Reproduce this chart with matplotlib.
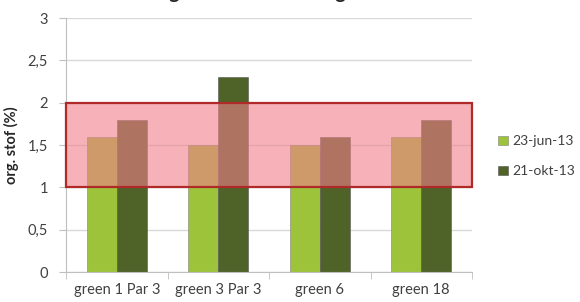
import matplotlib
matplotlib.use("Agg")
import matplotlib.pyplot as plt
import numpy as np
from matplotlib.patches import Rectangle

categories = ["green 1 Par 3", "green 3 Par 3", "green 6", "green 18"]
series_names = ["23-jun-13", "21-okt-13"]
jun_values = [1.6, 1.5, 1.5, 1.6]
okt_values = [1.8, 2.3, 1.6, 1.8]
band_low, band_high = 1.0, 2.0
yticks = [0, 0.5, 1, 1.5, 2, 2.5, 3]
ytick_labels = ["0", "0,5", "1", "1,5", "2", "2,5", "3"]
title = "Organische stof in de greens"

plt.rcParams['font.family'] = ['Lato', 'DejaVu Sans']

fig = plt.figure(figsize=(5.8, 3.02), dpi=100)
ax = fig.add_axes([66/580, 1-272/302, (472-66)/580, (272-18)/302])

x = np.arange(len(categories))
w = 0.295
c_light = "#9DC33B"
c_dark = "#4F6228"
ax.bar(x - w/2, jun_values, w, color=c_light, edgecolor="#7f7f7f", linewidth=0.4, label=series_names[0], zorder=2)
ax.bar(x + w/2, okt_values, w, color=c_dark, edgecolor="#555555", linewidth=0.4, label=series_names[1], zorder=2)

ax.set_xlim(-0.5, len(categories) - 0.5)
ax.set_ylim(0, 3)
ax.set_yticks(yticks)
ax.set_yticklabels(ytick_labels)
ax.yaxis.grid(True, color="#d9d9d9", linewidth=1.0, zorder=0)
ax.set_axisbelow(True)

ax.add_patch(Rectangle((-0.5, band_low), len(categories), band_high - band_low,
                       facecolor=(0.94, 0.50, 0.54, 0.6), edgecolor="#b02a2a",
                       linewidth=1.6, zorder=3, clip_on=False))

ax.set_xticks(x)
ax.set_xticklabels(categories)
ax.set_xticks(np.arange(len(categories) + 1) - 0.5, minor=True)
ax.tick_params(axis='x', which='major', length=0, labelsize=10.5, colors="#404040", pad=8)
ax.tick_params(axis='x', which='minor', length=5, color="#bfbfbf")
ax.tick_params(axis='y', length=5, color="#bfbfbf", labelsize=10.5, labelcolor="#404040", pad=8)

for s in ["top", "right"]:
    ax.spines[s].set_visible(False)
ax.spines["left"].set_color("#bfbfbf")
ax.spines["bottom"].set_color("#bfbfbf")

ax.set_ylabel("org. stof (%)", fontsize=10.5, fontweight="bold", color="#262626", labelpad=6)

leg = ax.legend(loc="center left", bbox_to_anchor=(1.05, 0.455), frameon=False,
                fontsize=10, handlelength=0.7, handleheight=0.7, handletextpad=0.35,
                labelspacing=1.3, labelcolor="#404040", borderaxespad=0)

fig.text(0.465, 1 + 1.5/302, title, ha="center", va="baseline", fontsize=14,
         fontweight="bold", color="#262626")

fig.savefig("out.png", dpi=100)
